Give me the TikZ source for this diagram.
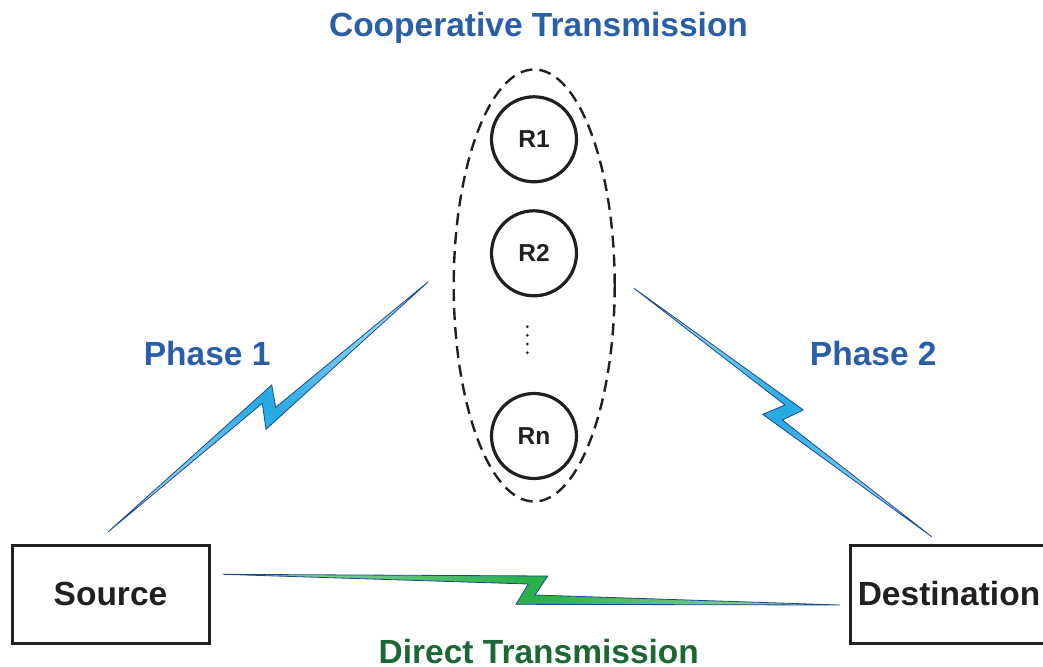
\documentclass[tikz,border=0pt]{standalone}
\usepackage{fontspec}
\setmainfont{Liberation Sans}
\usetikzlibrary{shapes.geometric}

\definecolor{headblue}{RGB}{41,94,168}
\definecolor{headgreen}{RGB}{27,104,50}
\definecolor{ink}{RGB}{35,31,32}
\definecolor{boltedge}{RGB}{28,72,140}
\definecolor{skyfill}{RGB}{36,170,226}
\definecolor{skylight}{RGB}{150,214,242}
\definecolor{leaffill}{RGB}{40,176,74}
\definecolor{leaflight}{RGB}{160,218,178}

\begin{document}
\begin{tikzpicture}[x=1pt,y=-1pt,
  bigtext/.style={font=\fontsize{33.5}{40}\selectfont\bfseries, inner sep=0pt},
  heading/.style={bigtext, text=headblue, anchor=base},
  endbox/.style={draw=ink, line width=3pt, minimum width=197pt, minimum height=98pt,
                 inner sep=0pt, text=ink, font=\fontsize{33.5}{40}\selectfont\bfseries},
  relay/.style={circle, draw=ink, line width=3.2pt, minimum size=85pt, inner sep=0pt,
                text=ink, font=\fontsize{24.5}{30}\selectfont\bfseries},
  group/.style={ellipse, draw=ink, line width=2.4pt, dash pattern=on 12pt off 7pt,
                minimum width=161pt, minimum height=432pt, inner sep=0pt},
  skybolt/.style={draw=boltedge, line width=0.8pt, line join=miter,
                  top color=skylight, bottom color=skylight, middle color=skyfill},
  leafbolt/.style={draw=boltedge, line width=0.8pt, line join=miter,
                   top color=leaflight, bottom color=leaflight, middle color=leaffill,
                   shading angle=90}
]
\useasboundingbox (0,0) rectangle (1043,666);
\clip (0,0) rectangle (1043,666);

% headings
\node[heading] (coop) at (538.5,37) {Cooperative Transmission};
\node[heading] (ph1) at (207.2,365) {Phase 1};
\node[heading] (ph2) at (873.3,365) {Phase 2};
\node[bigtext, text=headgreen, anchor=base] (direct) at (538.8,663) {Direct Transmission};

% relay group
\node[group] (grp) at (534.2,285.5) {};
\node[relay] (r1) at (534,139.3) {R1};
\node[relay] (r2) at (534,253.3) {R2};
\node[relay] (rn) at (534,436) {Rn};
\foreach \yy in {326.7,335.3,344,352.7}
  \fill[ink] (527.3,\yy) circle (1.5pt);

% end points
\node[endbox] (src) at (110.5,594) {Source};
\node[endbox] (dst) at (949,594) {Destination};

% bolt end points
\coordinate (s1) at (108.3,531.7);
\coordinate (g1) at (428.3,281.7);
\coordinate (g2) at (634,288.3);
\coordinate (d2) at (931.7,536.7);
\coordinate (s0) at (222.7,574.3);
\coordinate (d0) at (840,605);

% phase 1: source -> relays
\draw[skybolt, shading angle=-52]
  (s1) -- (271.7,385) -- (275.7,407.3) -- (g1) -- (266,429.3) -- (262.3,403.3) -- cycle;

% phase 2: relays -> destination
\draw[skybolt, shading angle=50]
  (g2) -- (803.3,410) -- (782.3,420) -- (d2) -- (762.7,414.3) -- (785,405) -- cycle;

% direct link: source -> destination
\draw[leafbolt]
  (s0) -- (547.7,576) -- (535,595) -- (d0) -- (516,604.3) -- (528.3,584) -- cycle;
\end{tikzpicture}
\end{document}
